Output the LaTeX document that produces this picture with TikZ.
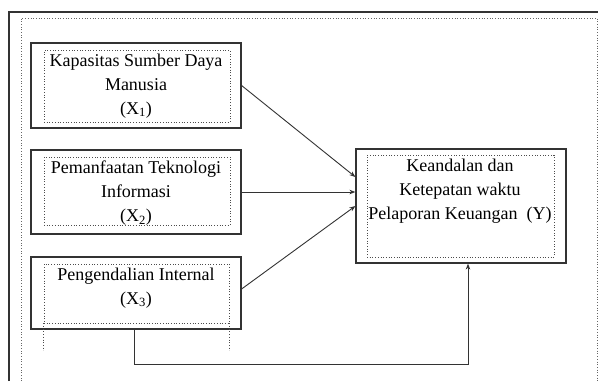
\documentclass[tikz,border=0pt]{standalone}
\usepackage{fontspec}
\setmainfont{Liberation Serif}
\usetikzlibrary{arrows.meta,calc}
\begin{document}
\begin{tikzpicture}[x=1pt,y=-1pt,
  solidbox/.style={draw=black!80,line width=1.2pt,minimum width=210pt,inner sep=0pt},
  dotbox/.style={draw=black!70,dotted,line width=0.7pt,inner sep=0pt},
  lbl/.style={align=center,font=\fontsize{18}{24}\selectfont,inner sep=0pt,text=black},
  conn/.style={draw=black!80,line width=0.9pt,-{Stealth[length=6pt,width=4.5pt]}}]
\useasboundingbox (0,0) rectangle (598,381);
% frames
\draw[black!80,line width=1.2pt] (9,381) -- (9,12) -- (598,12);
\draw[black!60,dotted,line width=0.7pt] (21,381) -- (21,18) -- (597,18) -- (597,381);
% boxes
\node[solidbox,minimum height=85pt] (x1) at (136,85.5) {};
\node[dotbox,minimum width=186pt,minimum height=72pt] (d1) at (137,86) {};
\node[lbl] (t1) at (136,86) {Kapasitas Sumber Daya\\Manusia\\(X\textsubscript{1})};

\node[solidbox,minimum height=84pt] (x2) at (136,192) {};
\node[dotbox,minimum width=186pt,minimum height=68pt] (d2) at (137,191) {};
\node[lbl] (t2) at (136,193) {Pemanfaatan Teknologi\\Informasi\\(X\textsubscript{2})};

\node[solidbox,minimum height=72pt] (x3) at (136,293) {};
\node[dotbox,minimum width=185pt,minimum height=59pt] (d3) at (136.5,293.5) {};
\draw[black!70,dotted,line width=0.7pt] (d3.south west) -- ++(0,27) (d3.south east) -- ++(0,27);
\node[lbl] (t3) at (136,288) {Pengendalian Internal\\(X\textsubscript{3})};

\node[solidbox,minimum height=114pt] (y) at (461,206) {};
\node[dotbox,minimum width=187pt,minimum height=102pt] (dy) at (460.5,206) {};
\node[lbl] (ty) at (460,191) {Keandalan dan\\Ketepatan waktu\\Pelaporan Keuangan\ \ (Y)};

% connectors
\draw[conn] (x1.east) -- ([yshift=29pt]y.west);
\draw[conn] (x2.east) -- (x2.east -| y.west);
\draw[conn] ([yshift=4pt]x3.east) -- (y.west);
\draw[conn] ([xshift=-2pt]x3.south) -- ++(0,35) -| ([xshift=7pt]y.south);
\end{tikzpicture}
\end{document}
